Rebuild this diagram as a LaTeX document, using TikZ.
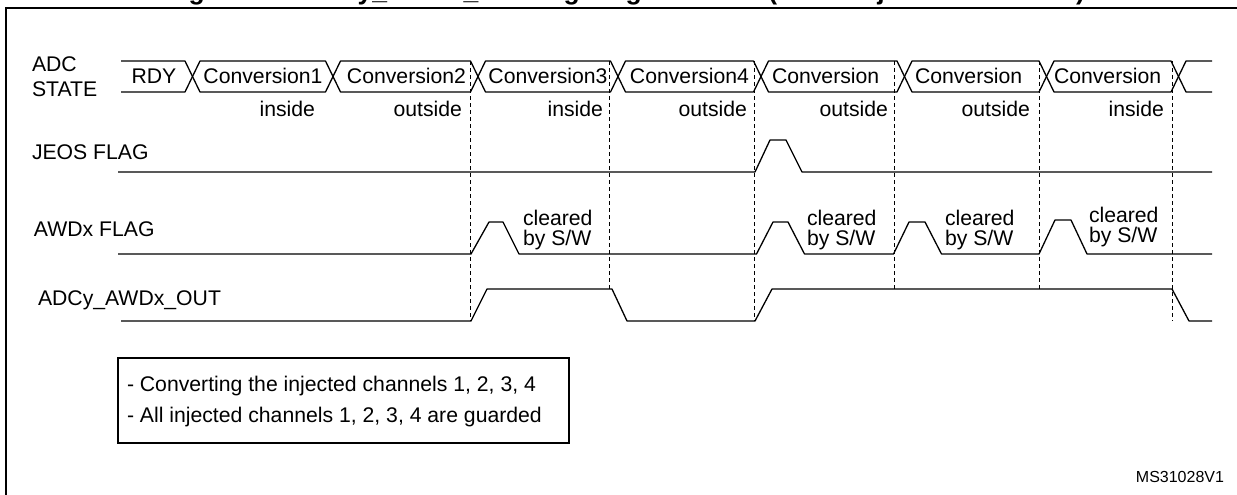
\documentclass[tikz,border=0pt]{standalone}
\usepackage{fontspec}
\setmainfont{Liberation Sans}
\begin{document}
\begin{tikzpicture}[x=1pt,y=-1pt,
  sig/.style={line width=1.3pt, line join=round},
  guide/.style={line width=1pt, dash pattern=on 4pt off 3pt},
  frameline/.style={line width=2pt},
  lbl/.style={inner sep=0pt, outer sep=0pt, font=\fontsize{21.2}{24}\selectfont},
  small/.style={inner sep=0pt, outer sep=0pt, font=\fontsize{16}{18}\selectfont},
  ttl/.style={inner sep=0pt, outer sep=0pt, font=\bfseries\fontsize{26.5}{30}\selectfont}]
\useasboundingbox (0,0) rectangle (1237,495);

% title (cut off at the top edge) and frame
\node[ttl, anchor=base east] (title) at (1085,0) {Figure 96. ADCy\_AWDx\_OUT signal generation (on all injected channels)};
\draw[frameline] (6,510) -- (6,8) -- (1250,8);

% left labels
\node[lbl, anchor=base west] (adc) at (32,72) {ADC};
\node[lbl, anchor=base west] (state) at (32,96) {STATE};
\node[lbl, anchor=base west] (jeos) at (32,159) {JEOS FLAG};
\node[lbl, anchor=base west] (awd) at (34,236) {AWDx FLAG};
\node[lbl, anchor=base west] (out) at (38,305) {ADCy\_AWDx\_OUT};

% guide lines
\draw[guide] (470.5,61) -- (470.5,321);
\draw[guide] (609,61) -- (609,289);
\draw[guide] (754.5,61) -- (754.5,321);
\draw[guide] (894,61) -- (894,289);
\draw[guide] (1039,61) -- (1039,289);
\draw[guide] (1172,61) -- (1172,321);

% ADC state bus
\draw[sig] (121,61) -- (185,61) -- (192.5,76.5) -- (185,92) -- (121,92);
\foreach \a/\b in {192.5/333, 333/478, 478/618, 618/761, 761/904.5, 904.5/1046.5, 1046.5/1178.5}{
  \draw[sig] (\a,76.5) -- (\a+7.5,61) -- (\b-7.5,61) -- (\b,76.5) -- (\b-7.5,92) -- (\a+7.5,92) -- cycle;
}
\draw[sig] (1212,61) -- (1186,61) -- (1178.5,76.5) -- (1186,92) -- (1212,92);

\node[lbl, anchor=base] (s0) at (154,84) {RDY};
\node[lbl, anchor=base] (s1) at (263,84) {Conversion1};
\node[lbl, anchor=base] (s2) at (406.5,84) {Conversion2};
\node[lbl, anchor=base] (s3) at (548,84) {Conversion3};
\node[lbl, anchor=base] (s4) at (689.5,84) {Conversion4};
\node[lbl, anchor=base west] (s5) at (772,84) {Conversion};
\node[lbl, anchor=base west] (s6) at (915,84) {Conversion};
\node[lbl, anchor=base west] (s7) at (1054,84) {Conversion};

\node[lbl, anchor=base east] (w1) at (315,116) {inside};
\node[lbl, anchor=base east] (w2) at (462,116) {outside};
\node[lbl, anchor=base east] (w3) at (603,116) {inside};
\node[lbl, anchor=base east] (w4) at (747,116) {outside};
\node[lbl, anchor=base east] (w5) at (888,116) {outside};
\node[lbl, anchor=base east] (w6) at (1030,116) {outside};
\node[lbl, anchor=base east] (w7) at (1164,116) {inside};

% JEOS flag
\draw[sig] (118,172) -- (755,172) -- (770,140) -- (786,140) -- (802,172) -- (1212,172);

% AWDx flag
\draw[sig] (118,254) -- (471,254) -- (489,222) -- (503,222) -- (519,254)
  -- (756.5,254) -- (773,222) -- (788,222) -- (804.5,254)
  -- (893.5,254) -- (909,222) -- (925,222) -- (941.5,254)
  -- (1039,254) -- (1055,220) -- (1071,220) -- (1087,254) -- (1212,254);
\node[lbl, anchor=base west] (c1a) at (523,225) {cleared};
\node[lbl, anchor=base west] (c1b) at (523,245) {by S/W};
\node[lbl, anchor=base west] (c2a) at (807,225) {cleared};
\node[lbl, anchor=base west] (c2b) at (807,245) {by S/W};
\node[lbl, anchor=base west] (c3a) at (945,225) {cleared};
\node[lbl, anchor=base west] (c3b) at (945,245) {by S/W};
\node[lbl, anchor=base west] (c4a) at (1089,222) {cleared};
\node[lbl, anchor=base west] (c4b) at (1089,242) {by S/W};

% ADCy_AWDx_OUT
\draw[sig] (121,321) -- (471,321) -- (487,289) -- (612,289) -- (627,321)
  -- (755,321) -- (772,289) -- (1172,289) -- (1189,321) -- (1212,321);

% note box
\draw[line width=1.3pt] (118,358) rectangle (569,443);
\node[lbl, anchor=base west] (n1) at (127,391) {- Converting the injected channels 1, 2, 3, 4};
\node[lbl, anchor=base west] (n2) at (127,422) {- All injected channels 1, 2, 3, 4 are guarded};

\node[small, anchor=base east] (ref) at (1224,482) {MS31028V1};
\end{tikzpicture}
\end{document}
